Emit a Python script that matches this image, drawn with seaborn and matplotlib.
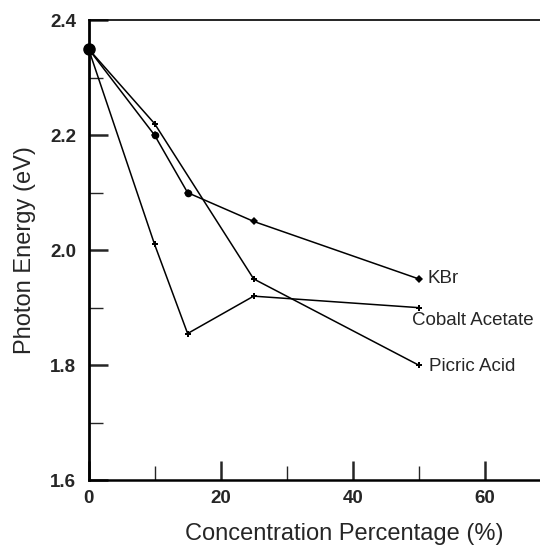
import matplotlib
matplotlib.use("Agg")
import matplotlib.pyplot as plt
import seaborn as sns
import pandas as pd
from matplotlib.ticker import MultipleLocator

sns.set_style("ticks")
plt.rcParams['font.family'] = ['Liberation Sans', 'DejaVu Sans']

conc_kbr = [0, 10, 15, 25, 50]
energy_kbr = [2.35, 2.20, 2.10, 2.05, 1.95]
conc_picric = [0, 10, 25, 50]
energy_picric = [2.35, 2.22, 1.95, 1.80]
conc_cobalt = [0, 10, 15, 25, 50]
energy_cobalt = [2.35, 2.01, 1.855, 1.92, 1.90]
series_names = ["KBr", "Cobalt Acetate", "Picric Acid"]
x_ticks = [0, 20, 40, 60]
y_ticks = [1.6, 1.8, 2.0, 2.2, 2.4]

df = pd.concat([
    pd.DataFrame({"conc": conc_kbr, "energy": energy_kbr, "series": "KBr"}),
    pd.DataFrame({"conc": conc_cobalt, "energy": energy_cobalt, "series": "Cobalt Acetate"}),
    pd.DataFrame({"conc": conc_picric, "energy": energy_picric, "series": "Picric Acid"}),
])

fig = plt.figure(figsize=(5.4, 5.45), dpi=100)
ax = fig.add_axes([0.164, 0.119, 0.856, 0.844])

markers = {"KBr": "D", "Cobalt Acetate": "P", "Picric Acid": "P"}
msizes = {"KBr": 4, "Cobalt Acetate": 5, "Picric Acid": 5}
for name in series_names:
    sub = df[df.series == name]
    sns.lineplot(data=sub, x="conc", y="energy", ax=ax, sort=False, color="black",
                 lw=1.1, marker=markers[name], markersize=msizes[name],
                 markeredgewidth=0, estimator=None, legend=False)

# KBr early points drawn as round dots, as in the reference
kbr_df = df[df.series == "KBr"]
sns.scatterplot(x=kbr_df["conc"].iloc[1:3], y=kbr_df["energy"].iloc[1:3], ax=ax,
                color="black", marker="o", s=30, linewidth=0, legend=False)
# shared starting point
ax.plot([conc_kbr[0]], [energy_kbr[0]], marker="o", ms=8, color="black", clip_on=False)

ax.text(51.4, energy_kbr[-1], "KBr", fontsize=13.5, va="center", ha="left")
ax.text(49.0, 1.877, "Cobalt Acetate", fontsize=13.5, va="center", ha="left")
ax.text(51.6, 1.797, "Picric Acid", fontsize=13.5, va="center", ha="left")

ax.set_xlim(0, 70)
ax.set_ylim(1.6, 2.4)
ax.xaxis.set_minor_locator(MultipleLocator(10))
ax.yaxis.set_minor_locator(MultipleLocator(0.1))
ax.set_xticks(x_ticks)
ax.set_xticklabels([str(v) for v in x_ticks])
ax.set_yticks(y_ticks)
ax.set_yticklabels([f"{v:.1f}" for v in y_ticks])
ax.tick_params(which="major", direction="in", length=14, width=1.8, labelsize=13.5, pad=7)
ax.tick_params(axis="y", which="major", pad=9)
ax.tick_params(which="minor", direction="in", length=10, width=1)
for lab in ax.get_xticklabels() + ax.get_yticklabels():
    lab.set_fontweight("bold")

ax.set_xlabel("Concentration Percentage (%)", fontsize=17)
ax.xaxis.set_label_coords(0.553, -0.118, transform=ax.transAxes)
ax.xaxis.label.set_va("center")
ax.set_ylabel("Photon Energy (eV)", fontsize=17, labelpad=10)

ax.spines["left"].set_linewidth(2)
ax.spines["bottom"].set_linewidth(1.8)
ax.spines["top"].set_linewidth(1.2)
for s in ["left", "bottom", "top"]:
    ax.spines[s].set_color("black")
ax.spines["right"].set_visible(False)

fig.savefig("out.png", dpi=100)
